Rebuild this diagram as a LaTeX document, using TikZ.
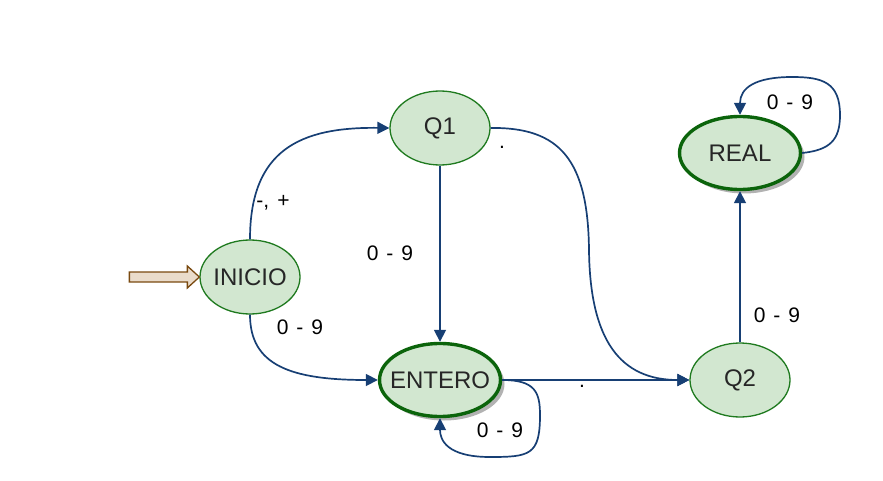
\documentclass[tikz,border=0pt]{standalone}
\usepackage{fontspec}
\setmainfont{Liberation Sans}
\usetikzlibrary{shapes.geometric,arrows.meta,shadows}
\definecolor{nodefill}{HTML}{D2E7D0}
\definecolor{nodeline}{HTML}{1F7A1F}
\definecolor{accline}{HTML}{0B640B}
\definecolor{edgeblue}{HTML}{173F74}
\definecolor{startline}{HTML}{7A4A10}
\definecolor{startfill}{HTML}{EADCCB}
\newcommand{\lblfont}{\fontsize{21}{25}\selectfont\spaceskip=8pt\relax}
\tikzset{
  state/.style={ellipse, draw=nodeline, fill=nodefill, line width=1.3pt,
    minimum width=100pt, minimum height=74pt, inner sep=0pt, inner xsep=-8pt,
    font=\fontsize{24}{28}\selectfont, text=black!85},
  accepting/.style={state, draw=accline, line width=3.4pt,
    minimum width=121pt, minimum height=73pt,
    drop shadow={shadow xshift=4pt, shadow yshift=-4pt, fill=black, opacity=0.3}},
  edge/.style={draw=edgeblue, line width=1.7pt, -{Triangle[length=12pt,width=12pt]}},
  lbl/.style={font=\lblfont, text=black, inner sep=0pt},
  startarrow/.style={draw=startline, fill=startfill, line width=1.3pt, line join=miter}
}
\begin{document}
\begin{tikzpicture}[x=1pt,y=-1pt]
\useasboundingbox (0,0) rectangle (883,481);
% states
\node[state] (ini) at (250,277) {INICIO};
\node[state] (q1) at (440,128) {Q1};
\node[accepting] (ent) at (440,380) {ENTERO};
\node[state] (q2) at (740,380) {Q2};
\node[accepting] (real) at (740,153) {REAL};
% start arrow
\coordinate (tip) at (ini.west);
\draw[startarrow] (tip) -- ++(-12,-11) -- ++(0,6) -- ++(-58,0) -- ++(0,10)
  -- ++(58,0) -- ++(0,6) -- cycle;
% edges
\draw[edge] (ini.north) .. controls (250,150) and (300,127) .. (q1.west);
\draw[edge] (ini.south) .. controls (250,365) and (290,380) .. (ent.west);
\draw[edge] (q1.south) -- (ent.north);
\draw[edge] (q1.east) .. controls (560,127) and (588,160) .. (589,250)
  .. controls (590,340) and (620,380) .. (q2.west);
\draw[edge] (ent.east) -- (q2.west);
\draw[edge] (q2.north) -- (real.south);
\draw[edge] (ent.east) .. controls (535,380) and (540,392) .. (540,415)
  .. controls (540,455) and (530,457) .. (490,457)
  .. controls (447,457) and (440,440) .. (ent.south);
\draw[edge] (real.east) .. controls (830,150) and (840,140) .. (840,115)
  .. controls (840,82) and (822,77) .. (792,77)
  .. controls (755,77) and (740,88) .. (real.north);
% labels
\node[lbl] (l1) at (273,203) {-, +};
\node[lbl] (l2) at (390,253) {0 - 9};
\node[lbl] (l3) at (300,327) {0 - 9};
\node[lbl, anchor=base] (l4) at (502,149) {.};
\node[lbl, anchor=base] (l5) at (582,387) {.};
\node[lbl] (l6) at (500,430) {0 - 9};
\node[lbl] (l7) at (777,315) {0 - 9};
\node[lbl] (l8) at (790,102) {0 - 9};
\end{tikzpicture}
\end{document}
